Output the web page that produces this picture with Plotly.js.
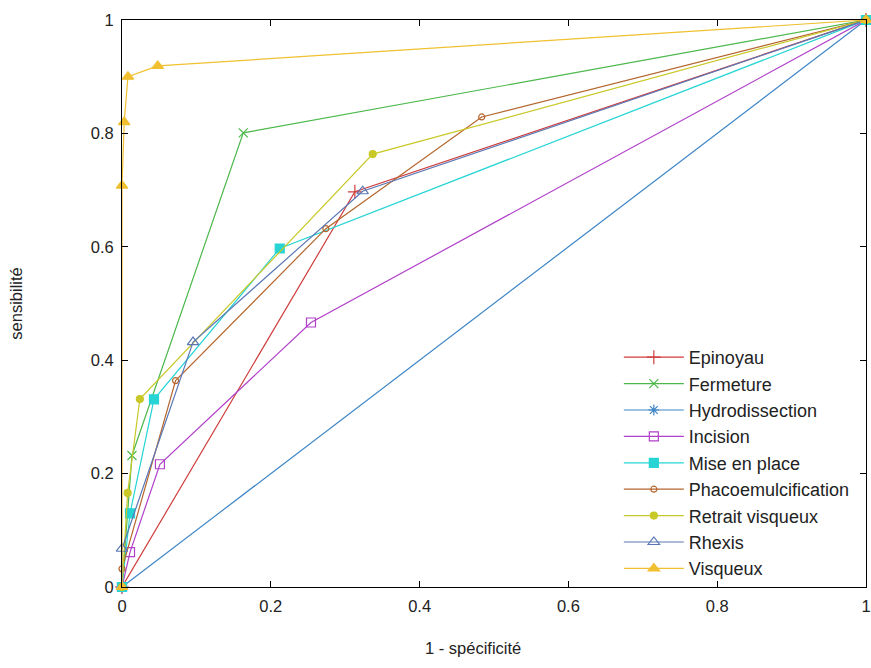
<!DOCTYPE html>
<html>
<head>
<meta charset="utf-8">
<script src="https://cdn.plot.ly/plotly-3.0.1.min.js"></script>
<style>html,body{margin:0;padding:0;background:#fff;}#chart{width:871px;height:668px;}</style>
</head>
<body>
<div id="chart"></div>
<script>
const seriesNames = ["Epinoyau","Fermeture","Hydrodissection","Incision","Mise en place","Phacoemulcification","Retrait visqueux","Rhexis","Visqueux"];

const epinoyauX = [0, 0.313, 1];
const epinoyauY = [0, 0.697, 1];
const fermetureX = [0, 0.0134, 0.163, 1];
const fermetureY = [0, 0.232, 0.801, 1];
const hydroX = [0, 1];
const hydroY = [0, 1];
const incisionX = [0, 0.0108, 0.051, 0.254, 1];
const incisionY = [0, 0.0616, 0.2165, 0.4665, 1];
const miseX = [0, 0.0108, 0.043, 0.212, 1];
const miseY = [0, 0.130, 0.331, 0.597, 1];
const phacoX = [0, 0, 0.072, 0.274, 0.4835, 1];
const phacoY = [0, 0.032, 0.364, 0.632, 0.829, 1];
const retraitX = [0, 0.0076, 0.024, 0.337, 1];
const retraitY = [0, 0.166, 0.3315, 0.7635, 1];
const rhexisX = [0, 0, 0.0955, 0.3235, 1];
const rhexisY = [0, 0.0675, 0.432, 0.698, 1];
const visqueuxX = [0, 0, 0.003, 0.008, 0.048, 1];
const visqueuxY = [0, 0.708, 0.820, 0.900, 0.919, 1];

const xTickVals = [0, 0.2, 0.4, 0.6, 0.8, 1];
const xTickText = ["0", "0.2", "0.4", "0.6", "0.8", "1"];
const yTickVals = [0, 0.2, 0.4, 0.6, 0.8, 1];
const yTickText = ["0", "0.2", "0.4", "0.6", "0.8", "1"];
const xTitle = "1 - spécificité";
const yTitle = "sensibilité";

const xs = [epinoyauX, fermetureX, hydroX, incisionX, miseX, phacoX, retraitX, rhexisX, visqueuxX];
const ys = [epinoyauY, fermetureY, hydroY, incisionY, miseY, phacoY, retraitY, rhexisY, visqueuxY];
const colors = ["#cf3d3d","#4cb84c","#3d85c6","#b040c8","#26d4d4","#b5652c","#c8c828","#5b78b5","#f0c030"];
const symbols = ["cross-thin-open","x-thin-open","asterisk-open","square-open","square","circle-open","circle","triangle-up-open","triangle-up"];
const sizes = [10, 9, 9, 9, 9, 6, 7, 10, 10];

const traces = seriesNames.map((n, i) => ({
  type: "scatter",
  mode: "lines+markers",
  name: n,
  x: xs[i],
  y: ys[i],
  cliponaxis: false,
  line: {color: colors[i], width: 1.2},
  marker: {color: colors[i], symbol: symbols[i], size: sizes[i], line: {color: colors[i], width: 1.2}}
}));

const FONT = "Liberation Sans, Arial, sans-serif";
const axisCommon = {
  range: [0, 1],
  showgrid: false,
  zeroline: false,
  showline: true,
  linecolor: "#000",
  linewidth: 1,
  mirror: "ticks",
  ticks: "inside",
  ticklen: 6,
  tickcolor: "#000",
  ticklabelstandoff: 4,
  tickfont: {family: FONT, size: 16.5, color: "#222"}
};

const layout = {
  width: 871,
  height: 668,
  paper_bgcolor: "#fff",
  plot_bgcolor: "#fff",
  margin: {l: 122, r: 5, t: 20, b: 81},
  font: {family: FONT, color: "#222"},
  xaxis: Object.assign({}, axisCommon, {
    tickvals: xTickVals, ticktext: xTickText
  }),
  yaxis: Object.assign({}, axisCommon, {
    tickvals: yTickVals, ticktext: yTickText,
    title: {text: yTitle, font: {size: 16.5, color: "#222"}, standoff: 63}
  }),
  annotations: [{
    text: xTitle, xref: "paper", yref: "paper", x: 0.472, y: -0.108,
    xanchor: "center", yanchor: "middle", showarrow: false,
    font: {family: FONT, size: 16.5, color: "#222"}
  }],
  showlegend: true,
  legend: {
    x: 0.985, y: 0.0, xanchor: "right", yanchor: "bottom",
    bgcolor: "rgba(255,255,255,0)",
    font: {family: FONT, size: 18, color: "#222"},
    itemwidth: 60,
    tracegroupgap: 0
  }
};

Plotly.newPlot("chart", traces, layout, {displayModeBar: false, staticPlot: true});
</script>
</body>
</html>
